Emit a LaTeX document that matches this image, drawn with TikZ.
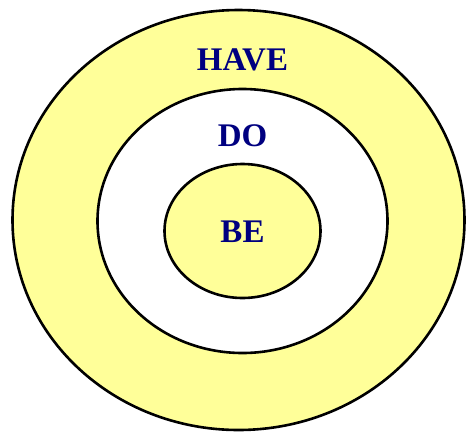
\documentclass[tikz,border=0pt]{standalone}
\usepackage{fontspec}
\setmainfont{Liberation Serif}
\begin{document}
\begin{tikzpicture}[x=1pt,y=-1pt,
  ring/.style={draw=black,line width=2.6pt},
  lbl/.style={text=navytext,font=\fontsize{33}{36}\selectfont\bfseries,inner sep=0pt,anchor=base}]
\definecolor{navytext}{RGB}{0,0,128}
\definecolor{paleyellow}{RGB}{255,255,153}
\useasboundingbox (0,0) rectangle (466,432);
\draw[ring,fill=paleyellow] (238.5,220) ellipse [x radius=226,y radius=210] node (have) {};
\draw[ring,fill=white] (242.5,221) ellipse [x radius=145,y radius=132] node (do) {};
\draw[ring,fill=paleyellow] (242.5,231) ellipse [x radius=78,y radius=67] node (be) {};
\node[lbl] (thave) at (242.5,70) {HAVE};
\node[lbl] (tdo) at (242.5,146) {DO};
\node[lbl] (tbe) at (242.5,242) {BE};
\end{tikzpicture}
\end{document}
